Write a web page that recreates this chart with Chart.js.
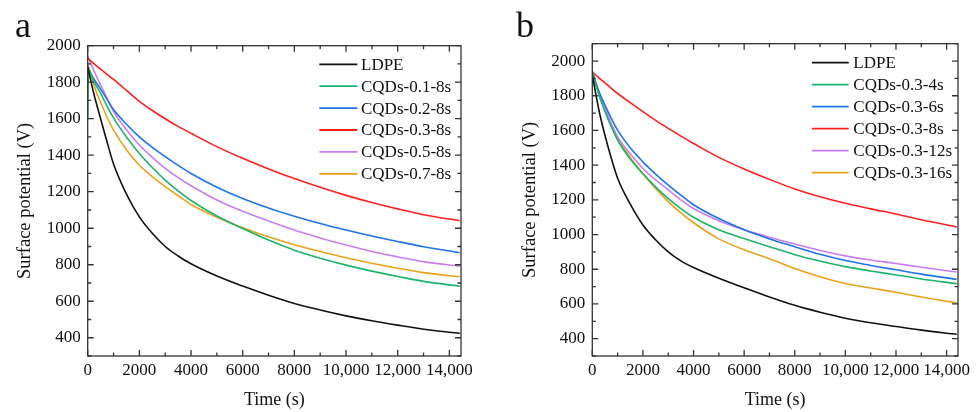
<!DOCTYPE html>
<html>
<head>
<meta charset="utf-8">
<script src="https://cdn.jsdelivr.net/npm/chart.js@4.4.1/dist/chart.umd.min.js"></script>
<style>
  body { margin: 0; background: #fff; }
  .panel { position: absolute; top: 0; }
  .tag { position: absolute; font: 36px/36px "Liberation Serif", serif; color: #111; }
</style>
</head>
<body>
<canvas id="chartA" class="panel" style="left:0" width="489" height="412"></canvas>
<canvas id="chartB" class="panel" style="left:489px" width="489" height="412"></canvas>
<div class="tag" style="left:15px;top:7px">a</div>
<div class="tag" style="left:516px;top:7px">b</div>
<script>
const COLORS = ['#111111', '#1db36b', '#1f74e8', '#ff1f1f', '#c77ef2', '#e8a21c'];

const xTicks = [0, 2000, 4000, 6000, 8000, 10000, 12000, 14000];
const xTickLabels = ['0', '2000', '4000', '6000', '8000', '10,000', '12,000', '14,000'];
const yTicks = [400, 600, 800, 1000, 1200, 1400, 1600, 1800, 2000];

// panel a
const labelsA = ['LDPE', 'CQDs-0.1-8s', 'CQDs-0.2-8s', 'CQDs-0.3-8s', 'CQDs-0.5-8s', 'CQDs-0.7-8s'];
const timeA = [0, 30, 250, 500, 750, 1000, 1500, 2000, 2500, 3000, 3500, 4000, 5000, 6000, 7000, 8000, 9000, 10000, 11000, 12000, 13000, 14400];
const ldpeA = [1885, 1865, 1730, 1600, 1472, 1352, 1187, 1062, 972, 900, 848, 805, 738, 683, 633, 588, 552, 520, 493, 469, 447, 424];
const cqd01A = [1600, 1870, 1800, 1740, 1668, 1605, 1500, 1410, 1333, 1264, 1204, 1152, 1067, 998, 935, 880, 836, 798, 765, 736, 709, 683];
const cqd02A = [1882, 1872, 1815, 1762, 1706, 1650, 1570, 1500, 1443, 1392, 1344, 1300, 1225, 1163, 1111, 1066, 1026, 990, 957, 927, 899, 866];
const cqd03A = [1932, 1928, 1900, 1871, 1843, 1815, 1755, 1695, 1645, 1600, 1558, 1520, 1447, 1383, 1325, 1272, 1224, 1180, 1141, 1106, 1074, 1041];
const cqd05A = [1945, 1932, 1860, 1785, 1712, 1640, 1540, 1456, 1388, 1328, 1277, 1233, 1155, 1093, 1040, 990, 947, 908, 873, 843, 817, 792];
const cqd07A = [1900, 1886, 1780, 1690, 1608, 1538, 1430, 1345, 1283, 1228, 1178, 1130, 1060, 1003, 953, 910, 872, 838, 808, 781, 757, 734];

// panel b
const labelsB = ['LDPE', 'CQDs-0.3-4s', 'CQDs-0.3-6s', 'CQDs-0.3-8s', 'CQDs-0.3-12s', 'CQDs-0.3-16s'];
const timeB = [0, 250, 500, 750, 1000, 1500, 2000, 2500, 3000, 3500, 4000, 5000, 6000, 7000, 8000, 9000, 10000, 11000, 12000, 13000, 14400];
const ldpeB = [1920, 1725, 1572, 1440, 1325, 1175, 1055, 970, 900, 848, 810, 748, 693, 640, 592, 552, 518, 492, 470, 449, 425];
const cqd4sB = [1938, 1810, 1710, 1622, 1545, 1435, 1350, 1275, 1207, 1150, 1100, 1028, 977, 930, 884, 847, 815, 790, 767, 744, 717];
const cqd6sB = [1938, 1830, 1746, 1670, 1602, 1500, 1419, 1348, 1285, 1227, 1172, 1092, 1027, 975, 930, 886, 850, 822, 797, 772, 742];
const cqd8sB = [1938, 1905, 1874, 1843, 1813, 1760, 1708, 1658, 1612, 1567, 1525, 1445, 1378, 1318, 1263, 1218, 1180, 1148, 1118, 1085, 1044];
const cqd12sB = [1938, 1820, 1727, 1640, 1563, 1465, 1381, 1315, 1258, 1200, 1150, 1080, 1028, 985, 945, 908, 877, 853, 833, 812, 784];
const cqd16sB = [1938, 1815, 1717, 1631, 1554, 1445, 1350, 1265, 1190, 1125, 1068, 975, 912, 860, 805, 757, 718, 692, 667, 640, 606];

const FONT = '"Liberation Serif", "Times New Roman", serif';
const INK = '#111';

function toPoints(times, values) {
  return values.map((v, i) => ({ x: times[i], y: v }));
}

// inward ticks on all four sides plus the box
const frameTicks = {
  id: 'frameTicks',
  afterDatasetsDraw(chart) {
    const { ctx, chartArea: { left, right, top, bottom }, scales: { x, y } } = chart;
    ctx.save();
    ctx.strokeStyle = '#333';
    ctx.lineWidth = 1.3;
    ctx.strokeRect(left, top, right - left, bottom - top);
    ctx.beginPath();
    for (let v = 0; v <= x.max; v += 1000) {
      const px = x.getPixelForValue(v);
      const len = v % 2000 ? 3.5 : 6;
      ctx.moveTo(px, bottom); ctx.lineTo(px, bottom - len);
      ctx.moveTo(px, top); ctx.lineTo(px, top + len);
    }
    for (let v = Math.ceil(y.min / 100) * 100; v <= y.max; v += 100) {
      const py = y.getPixelForValue(v);
      const len = v % 200 ? 3.5 : 6;
      ctx.moveTo(left, py); ctx.lineTo(left + len, py);
      ctx.moveTo(right, py); ctx.lineTo(right - len, py);
    }
    ctx.stroke();
    ctx.restore();
  }
};

const boxLegend = {
  id: 'boxLegend',
  afterDraw(chart, args, opts) {
    const { ctx, chartArea: { right, top } } = chart;
    ctx.save();
    ctx.font = '17px ' + FONT;
    ctx.textBaseline = 'middle';
    ctx.fillStyle = INK;
    chart.data.datasets.forEach((ds, i) => {
      const yy = top + opts.firstRow + i * opts.rowGap;
      ctx.strokeStyle = ds.borderColor;
      ctx.lineWidth = 1.8;
      ctx.beginPath();
      ctx.moveTo(right - opts.lineFrom, yy);
      ctx.lineTo(right - opts.lineTo, yy);
      ctx.stroke();
      ctx.fillText(ds.label, right - opts.textAt, yy + 1);
    });
    ctx.restore();
  }
};

function makeChart(el, labels, times, series, cfg) {
  return new Chart(document.getElementById(el), {
    type: 'line',
    data: {
      datasets: series.map((vals, i) => ({
        label: labels[i],
        data: toPoints(times, vals),
        borderColor: COLORS[i],
        borderWidth: 1.6,
        pointRadius: 0,
        cubicInterpolationMode: 'monotone',
        fill: false,
      })),
    },
    options: {
      responsive: false,
      animation: false,
      devicePixelRatio: 1,
      layout: { padding: { top: cfg.top, right: cfg.right, bottom: 0, left: 0 } },
      plugins: {
        legend: { display: false },
        tooltip: { enabled: false },
        boxLegend: cfg.legend,
      },
      scales: {
        x: {
          type: 'linear',
          min: 0,
          max: 14450,
          afterFit: s => { s.height = 56; },
          afterBuildTicks: s => { s.ticks = xTicks.map(v => ({ value: v })); },
          grid: { display: false, drawTicks: false },
          border: { display: false },
          ticks: {
            autoSkip: false,
            maxRotation: 0,
            padding: 4.5,
            color: INK,
            font: { family: FONT, size: 17 },
            callback: v => xTickLabels[xTicks.indexOf(v)],
          },
          title: {
            display: true,
            text: 'Time (s)',
            color: INK,
            font: { family: FONT, size: 18 },
            padding: { top: 0, bottom: 1 },
          },
        },
        y: {
          min: 300,
          max: cfg.yMax,
          afterFit: s => { s.width = cfg.yWidth; },
          afterBuildTicks: s => { s.ticks = yTicks.map(v => ({ value: v })); },
          grid: { display: false, drawTicks: false },
          border: { display: false },
          ticks: {
            autoSkip: false,
            padding: 7,
            color: INK,
            font: { family: FONT, size: 17 },
            callback: v => String(v),
          },
          title: {
            display: true,
            text: 'Surface potential (V)',
            color: INK,
            font: { family: FONT, size: 18.5 },
            padding: { top: cfg.titlePad, bottom: 0 },
          },
        },
      },
    },
    plugins: [frameTicks, boxLegend],
  });
}

makeChart('chartA', labelsA, timeA, [ldpeA, cqd01A, cqd02A, cqd03A, cqd05A, cqd07A], {
  top: 45.7, right: 28, yMax: 2000, yWidth: 87.7, titlePad: 14,
  legend: { firstRow: 18.6, rowGap: 21.9, lineFrom: 141.7, lineTo: 103.7, textAt: 100 },
});

makeChart('chartB', labelsB, timeB, [ldpeB, cqd4sB, cqd6sB, cqd8sB, cqd12sB, cqd16sB], {
  top: 43.7, right: 20, yMax: 2100, yWidth: 103.3, titlePad: 30,
  legend: { firstRow: 19, rowGap: 22, lineFrom: 146, lineTo: 109.3, textAt: 104.7 },
});
</script>
</body>
</html>
